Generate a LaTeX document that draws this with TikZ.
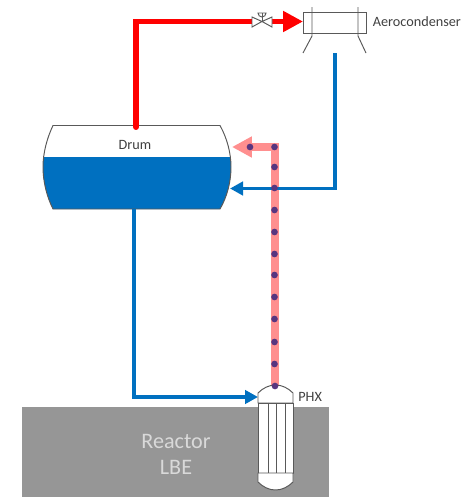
\documentclass[tikz,border=0pt]{standalone}
\usepackage{fontspec}
\setmainfont{Carlito}
\usetikzlibrary{arrows.meta,calc}
\definecolor{pipeblue}{RGB}{0,112,192}
\definecolor{pipepink}{RGB}{255,143,143}
\definecolor{dotpurple}{RGB}{88,54,128}
\definecolor{reactorgray}{RGB}{150,150,150}
\definecolor{outlinegray}{RGB}{89,89,89}
\tikzset{
    outline/.style={draw=outlinegray,line width=0.55pt},
    steam/.style={red,line width=3.4pt,-{Triangle[length=11.3pt,width=11.3pt]}},
    steampipe/.style={red,line width=3.4pt},
    water/.style={pipeblue,line width=1.9pt,-{Triangle[length=7.4pt,width=7.6pt]}},
    lbe/.style={pipepink,line width=4.6pt,-{Triangle[length=11.3pt,width=11.3pt]}},
    label/.style={text=black!75,font=\fontsize{8.1pt}{10pt}\selectfont,inner sep=0pt},
    bigtext/.style={text=black!15,font=\fontsize{12.6pt}{15pt}\selectfont,inner sep=0pt},
    lbedot/.style={circle,fill=dotpurple,minimum size=3.8pt,inner sep=0pt}
}
\begin{document}
\begin{tikzpicture}[x=0.02cm,y=-0.02cm]
    \useasboundingbox (0,0) rectangle (475,497);

    % reactor
    \fill[reactorgray] (22,407) rectangle (329,497);
    \node[bigtext] (reactor) at (176,441) {Reactor};
    \node[bigtext] (lbetext) at (176,467) {LBE};

    % drum
    \def\drumshape{(53,125.5) -- (220,125.5) .. controls (227,138) and (231,153) .. (231,167)
        .. controls (231,182) and (227,197) .. (220,209) -- (53,209)
        .. controls (47,197) and (43,182) .. (43,167) .. controls (43,153) and (47,138) .. (53,125.5) -- cycle}
    \begin{scope}
        \clip \drumshape;
        \fill[pipeblue] (40,157) rectangle (235,212);
    \end{scope}
    \draw[outline] \drumshape;
    \node[label] (drum) at (135,145) {Drum};

    % named ends of the pipes
    \coordinate (drumtop) at (136,127);
    \coordinate (steamcorner) at (136,21.5);
    \coordinate (valvein) at (252,21.5);
    \coordinate (valvemid) at (262,21.5);
    \coordinate (valveout) at (272,21.5);
    \coordinate (condin) at (303,21.5);
    \coordinate (condout) at (335,53);
    \coordinate (returncorner) at (335,188.5);
    \coordinate (drumin) at (230,188.5);
    \coordinate (drumout) at (134,209);
    \coordinate (feedcorner) at (134,397);
    \coordinate (phxin) at (258,397);
    \coordinate (phxtop) at (275,387);
    \coordinate (lbecorner) at (275,147);
    \coordinate (lbeend) at (232,147);

    % primary loop
    \draw[lbe] (phxtop) -- (lbecorner) -- (lbeend);

    % steam line
    \draw[steampipe,line cap=round] (drumtop) -- (steamcorner) -- (valvein);
    \draw[steam] (valveout) -- (condin);

    % water lines
    \draw[water] (condout) -- (returncorner) -- (drumin);
    \draw[water] (drumout) -- (feedcorner) -- (phxin);

    % dots in the primary loop
    \node[lbedot] (dota) at (250,147) {};
    \foreach \y/\n in {147/b,167/c,188/d,210/e,232/f,254/g,275/h,297/i,319/j,342/k,364/l}
        \node[lbedot] (dot\n) at (274.5,\y) {};

    % valve
    \draw[outline,fill=white] (252,17) -- (valvemid) -- (252,27) -- cycle;
    \draw[outline,fill=white] (272,17) -- (valvemid) -- (272,27) -- cycle;
    \draw[outline] (valvemid) -- (262,13);
    \draw[outline] (258,13) arc (180:0:4) -- cycle;

    % aerocondenser
    \draw[outline] (303,12) rectangle (366,33);
    \draw[outline] (312,7) -- (312,36) -- (303,53);
    \draw[outline] (358,7) -- (358,36) -- (366,53);
    \node[label,anchor=west] (aero) at (372.5,22) {Aerocondenser};

    % PHX
    \draw[outline,fill=white] (258,403) -- (258,393) .. controls (263,388) and (269,385) .. (275.5,385)
        .. controls (282,385) and (288,388) .. (293,393) -- (293,403) -- cycle;
    \draw[outline,fill=white] (258,403) rectangle (293,473);
    \draw[outline,fill=white] (258,473) -- (258,482) .. controls (263,487) and (269,490) .. (275.5,490)
        .. controls (282,490) and (288,487) .. (293,482) -- (293,473) -- cycle;
    \foreach \x in {268,276,285}
        \draw[outline] (\x,403) -- (\x,473);
    \node[label,anchor=west] (phx) at (298,397) {PHX};
    \node[lbedot] (dotm) at (275,386) {};
\end{tikzpicture}
\end{document}
